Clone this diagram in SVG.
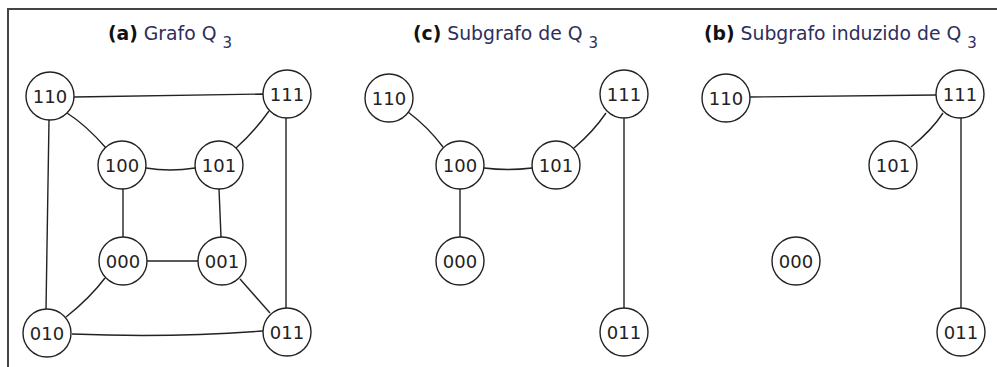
<svg xmlns="http://www.w3.org/2000/svg" width="997" height="367" viewBox="0 0 997 367">
  <style>
    .frame { fill: none; stroke: #444; stroke-width: 2; }
    .node circle { fill: #fff; stroke: #222; stroke-width: 1.4; }
    .node text { font-family: "DejaVu Sans", Verdana, sans-serif; font-size: 18px; fill: #222; text-anchor: middle; dominant-baseline: central; }
    .edges path { fill: none; stroke: #222; stroke-width: 1.4; }
    .title { font-family: "DejaVu Sans", Verdana, sans-serif; font-size: 18.8px; fill: #2e2e5c; }
    .title .tag { font-weight: bold; fill: #111; }
    .title .sub { font-size: 15px; }
  </style>
  <rect width="997" height="367" fill="#fff"/>
  <path class="frame" d="M8,367 V9 H997"/>

  <!-- titles -->
  <text class="title" x="108" y="40"><tspan class="tag">(a)</tspan> Grafo Q <tspan class="sub" dy="8">3</tspan></text>
  <text class="title" x="413" y="40"><tspan class="tag">(c)</tspan> Subgrafo de Q <tspan class="sub" dy="8">3</tspan></text>
  <text class="title" x="704" y="40"><tspan class="tag">(b)</tspan> Subgrafo induzido de Q <tspan class="sub" dy="8">3</tspan></text>

  <!-- connectors -->
  <g class="edges">
    <!-- (a) Q3 -->
    <path d="M74,97 L263,94"/>
    <path d="M67,113 Q86,125 106,148"/>
    <path d="M269,111 Q254,132 236,148"/>
    <path d="M146,168 Q170,172 195,168"/>
    <path d="M123,189 V237"/>
    <path d="M219,189 L221,237"/>
    <path d="M147,261 H198"/>
    <path d="M105,278 Q90,298 66,317"/>
    <path d="M240,279 L270,313"/>
    <path d="M49,120 L46,310"/>
    <path d="M286,118 V308"/>
    <path d="M72,334 Q170,338 263,331"/>
    <!-- (c) subgraph -->
    <path d="M408,112 Q428,127 443,147"/>
    <path d="M484,168 Q508,171 532,168"/>
    <path d="M606,113 Q593,132 574,148"/>
    <path d="M460,189 V237"/>
    <path d="M624,118 V308"/>
    <!-- (b) induced subgraph -->
    <path d="M750,97 L936,95"/>
    <path d="M943,113 Q932,130 911,147"/>
    <path d="M961,118 V308"/>
  </g>

  <!-- (a) nodes -->
  <g id="a-110" class="node"><circle cx="50" cy="96" r="24"/><text x="50" y="96">110</text></g>
  <g id="a-111" class="node"><circle cx="287" cy="94" r="24"/><text x="287" y="94">111</text></g>
  <g id="a-100" class="node"><circle cx="122" cy="165" r="24"/><text x="122" y="165">100</text></g>
  <g id="a-101" class="node"><circle cx="219" cy="165" r="24"/><text x="219" y="165">101</text></g>
  <g id="a-000" class="node"><circle cx="123" cy="261" r="24"/><text x="123" y="261">000</text></g>
  <g id="a-001" class="node"><circle cx="222" cy="261" r="24"/><text x="222" y="261">001</text></g>
  <g id="a-010" class="node"><circle cx="47" cy="333" r="24"/><text x="47" y="333">010</text></g>
  <g id="a-011" class="node"><circle cx="287" cy="332" r="24"/><text x="287" y="332">011</text></g>

  <!-- (c) nodes -->
  <g id="c-110" class="node"><circle cx="389" cy="98" r="24"/><text x="389" y="98">110</text></g>
  <g id="c-111" class="node"><circle cx="624" cy="94" r="24"/><text x="624" y="94">111</text></g>
  <g id="c-100" class="node"><circle cx="460" cy="165" r="24"/><text x="460" y="165">100</text></g>
  <g id="c-101" class="node"><circle cx="556" cy="165" r="24"/><text x="556" y="165">101</text></g>
  <g id="c-000" class="node"><circle cx="460" cy="261" r="24"/><text x="460" y="261">000</text></g>
  <g id="c-011" class="node"><circle cx="624" cy="332" r="24"/><text x="624" y="332">011</text></g>

  <!-- (b) nodes -->
  <g id="b-110" class="node"><circle cx="726" cy="98" r="24"/><text x="726" y="98">110</text></g>
  <g id="b-111" class="node"><circle cx="960" cy="94" r="24"/><text x="960" y="94">111</text></g>
  <g id="b-101" class="node"><circle cx="893" cy="165" r="24"/><text x="893" y="165">101</text></g>
  <g id="b-000" class="node"><circle cx="796" cy="261" r="24"/><text x="796" y="261">000</text></g>
  <g id="b-011" class="node"><circle cx="961" cy="332" r="24"/><text x="961" y="332">011</text></g>
</svg>
